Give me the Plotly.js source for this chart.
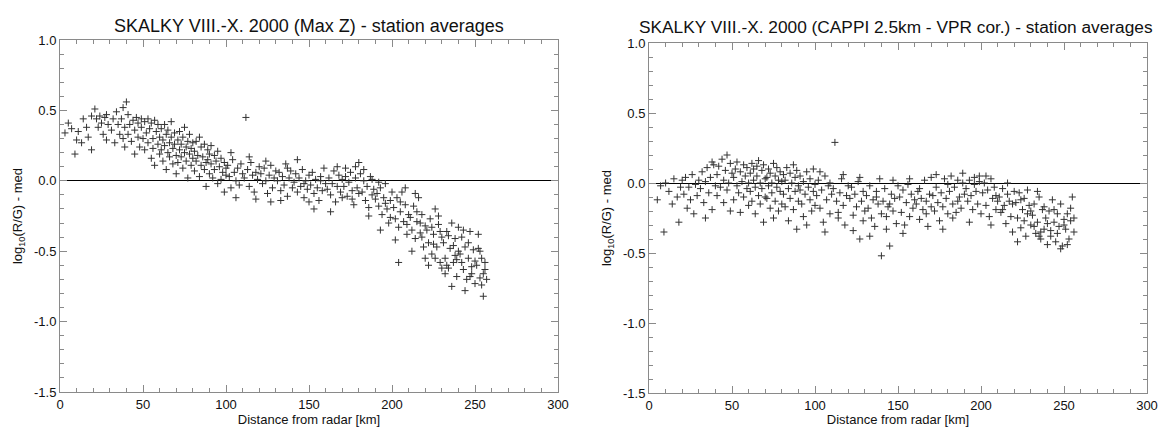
<!DOCTYPE html>
<html>
<head>
<meta charset="utf-8">
<script src="https://cdn.plot.ly/plotly-3.0.1.min.js"></script>
<style>html,body{margin:0;padding:0;background:#fff;}#chart{width:1160px;height:427px;}</style>
</head>
<body>
<div id="chart"></div>
<script>
// ---- Data ----
const titleLeft = "SKALKY VIII.-X. 2000 (Max Z) - station averages";
const titleRight = "SKALKY VIII.-X. 2000 (CAPPI 2.5km - VPR cor.) - station averages";
const xTitle = "Distance from radar [km]";
const yTitle = "log<sub>10</sub>(R/G) - med";
const yTickVals = [-1.5, -1.0, -0.5, 0.0, 0.5, 1.0];
const yTickText = ["-1.5", "-1.0", "-0.5", "0.0", "0.5", "1.0"];

// Left panel: Max Z
const distMaxZ = [
  3,5,7,9,10,
  11,13,14,16,17,19,19,
  21,22,23,24,25,26,27,28,28,29,
  31,32,33,34,35,36,37,38,38,39,39,40,
  41,41,42,43,44,45,45,46,47,47,48,49,49,50,
  51,51,52,53,53,54,55,55,56,56,57,57,58,59,59,60,60,
  61,61,62,62,63,63,64,64,65,65,66,66,67,67,68,68,69,69,70,70,
  71,71,72,72,73,73,74,74,75,75,76,76,77,77,78,78,79,79,80,80,
  81,81,82,82,83,84,84,85,85,86,87,87,88,88,89,89,90,90,
  91,91,92,93,93,94,95,95,96,97,97,98,99,99,100,100,
  101,102,103,104,105,106,107,108,109,110,103,106,
  111,112,113,114,115,116,117,118,119,120,114,118,
  121,122,123,124,125,126,127,128,129,130,124,127,
  131,132,133,134,135,136,137,138,139,140,133,137,
  141,142,143,144,145,146,147,148,149,150,143,147,150,
  151,152,153,154,155,156,157,158,159,160,153,157,
  161,162,163,164,165,166,167,168,169,170,163,167,170,
  171,172,173,174,175,176,177,178,179,180,172,176,180,178,
  181,182,183,184,185,186,187,188,189,190,183,186,188,
  191,192,193,194,195,196,197,198,199,200,193,196,199,192,
  201,202,203,204,205,206,207,208,209,210,202,205,208,204,209,
  211,212,213,214,215,216,217,218,219,220,212,215,218,214,217,220,
  221,222,223,224,225,226,227,228,229,230,222,224,226,228,230,225,229,
  231,232,233,234,235,236,237,238,239,240,232,234,236,238,240,233,237,239,
  241,242,243,244,245,246,247,248,249,250,242,244,246,248,250,243,247,
  251,252,253,254,255,256,257,252,254,256,253,255
];
const valMaxZ = [
  0.34,0.41,0.37,0.19,0.29,
  0.35,0.27,0.44,0.38,0.31,0.46,0.22,
  0.51,0.44,0.38,0.46,0.41,0.33,0.45,0.47,0.29,0.40,
  0.36,0.44,0.27,0.49,0.40,0.33,0.44,0.52,0.30,0.38,0.24,0.56,
  0.47,0.33,0.40,0.28,0.43,0.36,0.19,0.45,0.31,0.41,0.24,0.38,0.44,0.30,
  0.42,0.22,0.34,0.44,0.27,0.37,0.16,0.41,0.30,0.23,0.43,0.11,0.35,0.26,0.40,0.19,0.31,
  0.37,0.22,0.29,0.14,0.40,0.25,0.33,0.08,0.20,0.36,0.27,0.17,0.31,0.42,0.23,0.12,0.34,0.26,0.18,0.05,
  0.29,0.13,0.22,0.35,0.17,0.26,0.09,0.31,0.20,0.38,0.14,0.24,0.28,0.02,0.19,0.33,0.11,0.23,0.16,0.27,
  0.21,0.07,0.28,0.14,0.18,0.31,0.03,0.11,0.24,0.17,0.26,0.08,0.13,-0.04,0.22,0.15,0.05,0.19,
  0.12,0.25,0.02,0.18,0.08,0.14,-0.02,0.21,0.10,0.16,0.01,0.06,0.13,-0.08,0.09,0.04,
  0.11,0.03,-0.05,0.15,0.06,0.00,0.09,-0.03,0.12,0.05,0.20,-0.12,
  0.02,0.45,0.08,-0.04,0.13,0.04,-0.08,0.06,0.01,0.10,0.17,-0.13,
  0.05,-0.02,0.09,0.00,-0.09,0.04,0.11,-0.05,0.02,0.07,0.14,-0.15,
  0.00,0.06,-0.07,0.03,-0.03,0.12,-0.11,0.02,0.07,-0.05,-0.14,0.09,
  -0.01,0.05,-0.08,0.02,-0.04,0.08,-0.12,0.00,-0.06,0.04,0.15,-0.02,-0.15,
  -0.03,0.06,-0.09,0.01,-0.05,-0.14,0.03,-0.07,0.09,-0.02,-0.20,0.00,
  -0.06,0.02,-0.10,-0.02,0.07,-0.15,-0.04,0.04,-0.08,0.01,-0.22,0.10,-0.12,
  -0.04,0.03,-0.11,-0.01,0.06,-0.07,-0.17,0.02,-0.05,0.13,0.09,-0.13,-0.09,0.10,
  0.05,-0.08,0.00,-0.14,-0.04,-0.19,0.03,-0.10,-0.06,-0.13,0.08,-0.25,0.01,
  -0.09,-0.18,-0.05,-0.24,-0.12,-0.02,-0.20,-0.30,-0.14,-0.08,-0.35,-0.16,-0.26,-0.01,
  -0.19,-0.27,-0.12,-0.33,-0.22,-0.08,-0.29,-0.17,-0.38,-0.24,-0.42,-0.15,-0.05,-0.58,-0.31,
  -0.26,-0.35,-0.18,-0.41,-0.29,-0.12,-0.37,-0.24,-0.47,-0.32,-0.50,-0.22,-0.40,-0.09,-0.30,-0.55,
  -0.35,-0.44,-0.27,-0.52,-0.38,-0.20,-0.47,-0.31,-0.58,-0.40,-0.60,-0.33,-0.55,-0.25,-0.62,-0.45,-0.36,
  -0.44,-0.55,-0.36,-0.62,-0.48,-0.30,-0.58,-0.41,-0.68,-0.50,-0.66,-0.39,-0.75,-0.53,-0.33,-0.60,-0.46,-0.56,
  -0.52,-0.40,-0.63,-0.47,-0.70,-0.55,-0.36,-0.61,-0.49,-0.73,-0.58,-0.78,-0.44,-0.66,-0.57,-0.35,-0.68,
  -0.60,-0.48,-0.69,-0.55,-0.82,-0.63,-0.70,-0.38,-0.74,-0.58,-0.50,-0.66
];

// Right panel: CAPPI 2.5 km, VPR corrected
const distCappi = [
  5,7,9,10,
  12,14,15,17,18,19,20,
  21,22,23,24,25,26,27,28,29,30,
  31,32,33,34,35,36,37,38,39,40,34,38,
  41,41,42,43,44,45,45,46,47,47,48,49,49,50,
  51,51,52,53,53,54,55,55,56,57,57,58,59,59,60,60,
  61,61,62,62,63,63,64,64,65,65,66,66,67,67,68,68,69,69,70,70,
  71,71,72,72,73,73,74,74,75,75,76,76,77,77,78,78,79,79,80,80,
  81,81,82,82,83,84,84,85,85,86,87,87,88,88,89,89,90,90,
  91,91,92,93,93,94,95,95,96,97,97,98,99,99,100,100,
  101,102,103,104,105,106,107,108,109,110,103,106,109,
  111,112,113,114,115,116,117,118,119,120,114,117,
  121,122,123,124,125,126,127,128,129,130,123,127,129,
  131,132,133,134,135,136,137,138,139,140,133,137,140,
  141,142,143,144,145,146,147,148,149,150,143,147,145,
  151,152,153,154,155,156,157,158,159,160,153,157,
  161,162,163,164,165,166,167,168,169,170,163,167,170,
  171,172,173,174,175,176,177,178,179,180,173,177,180,
  181,182,183,184,185,186,187,188,189,190,183,186,189,
  191,192,193,194,195,196,197,198,199,200,193,196,199,
  201,202,203,204,205,206,207,208,209,210,203,206,209,
  211,212,213,214,215,216,217,218,219,220,213,216,219,
  221,222,223,224,225,226,227,228,229,230,222,224,226,228,230,
  231,232,233,234,235,236,237,238,239,240,232,234,236,238,240,235,
  241,242,243,244,245,246,247,248,249,250,242,244,246,248,250,
  251,252,253,254,255,256,252,254,256
];
const valCappi = [
  -0.12,-0.02,-0.35,0.00,
  -0.06,-0.15,0.03,-0.10,-0.28,-0.03,0.02,
  -0.08,0.04,-0.18,-0.03,-0.12,0.06,-0.22,-0.01,-0.09,0.02,
  -0.04,0.08,-0.14,0.01,0.11,-0.07,0.04,-0.19,0.13,-0.02,-0.25,0.15,
  0.06,-0.09,0.12,-0.03,0.17,0.02,-0.14,0.09,-0.05,0.20,0.00,0.14,-0.20,0.07,
  0.04,-0.12,0.10,-0.02,0.15,-0.07,0.08,-0.21,0.01,0.13,-0.10,0.05,-0.04,0.11,-0.16,0.00,
  0.07,-0.06,0.14,-0.13,0.02,0.10,-0.03,-0.22,0.12,0.05,-0.09,0.16,0.00,-0.15,0.09,-0.04,0.13,-0.28,0.03,-0.10,
  0.04,-0.11,0.10,-0.02,-0.18,0.07,0.00,-0.07,0.14,-0.25,0.05,-0.13,-0.03,0.11,0.02,-0.20,0.08,-0.06,-0.15,0.01,
  0.06,-0.08,0.02,-0.17,0.11,-0.04,-0.27,0.07,-0.11,0.00,0.13,-0.19,0.04,-0.06,-0.33,0.09,-0.02,-0.13,
  -0.05,0.05,-0.15,0.01,-0.24,-0.08,0.08,-0.30,-0.03,-0.12,0.03,-0.20,-0.06,0.10,-0.16,-0.01,
  -0.09,0.02,-0.18,-0.05,-0.28,0.05,-0.12,-0.02,-0.22,-0.08,0.08,-0.35,0.00,
  -0.04,0.29,-0.13,-0.21,-0.07,0.03,-0.16,-0.30,-0.09,-0.02,-0.25,0.06,
  -0.11,-0.03,-0.23,-0.08,-0.17,0.01,-0.40,-0.13,-0.06,-0.20,-0.34,0.04,-0.27,
  -0.09,-0.18,-0.02,-0.25,-0.12,-0.31,-0.06,-0.15,0.03,-0.22,-0.38,-0.10,-0.52,
  -0.13,-0.04,-0.24,-0.17,-0.45,-0.08,-0.20,-0.11,-0.29,-0.02,-0.33,0.02,-0.15,
  -0.10,-0.21,-0.05,-0.30,-0.14,-0.01,-0.24,-0.08,-0.18,-0.12,-0.36,0.03,
  -0.15,-0.06,-0.26,-0.11,-0.19,0.02,-0.13,-0.31,-0.08,-0.17,-0.04,-0.22,0.04,
  -0.09,-0.20,-0.03,-0.14,-0.27,-0.07,-0.17,0.03,-0.11,-0.22,0.06,-0.33,-0.01,
  -0.06,0.05,-0.15,-0.03,-0.21,0.02,-0.10,-0.18,0.00,-0.08,-0.25,-0.13,0.07,
  -0.04,-0.13,0.02,-0.09,-0.19,0.04,-0.06,-0.15,0.01,-0.22,-0.28,-0.01,0.05,
  -0.07,0.00,-0.16,-0.05,-0.24,0.03,-0.11,-0.03,-0.19,-0.13,0.05,-0.30,-0.09,
  -0.10,-0.21,-0.04,-0.16,-0.29,-0.08,-0.13,-0.24,-0.35,-0.06,-0.19,0.00,-0.15,
  -0.14,-0.25,-0.07,-0.32,-0.19,-0.11,-0.38,-0.22,-0.16,-0.30,-0.42,-0.12,-0.27,-0.05,-0.20,
  -0.23,-0.15,-0.36,-0.28,-0.10,-0.40,-0.19,-0.33,-0.25,-0.44,-0.31,-0.06,-0.35,-0.17,-0.29,-0.38,
  -0.20,-0.34,-0.12,-0.28,-0.42,-0.22,-0.31,-0.15,-0.45,-0.26,-0.38,-0.19,-0.36,-0.47,-0.30,
  -0.33,-0.22,-0.40,-0.27,-0.10,-0.35,-0.44,-0.18,-0.25
];

// ---- Chart ----
const FONT = "Liberation Sans, Arial, Helvetica, sans-serif";
const W = 1160, H = 427;
const markerStyle = {symbol: "cross-thin", size: 5, color: "#333", line: {width: 1, color: "#333"}};

function xAxis(left, right) {
  return {
    domain: [left / W, right / W], range: [0, 300], autorange: false,
    tickmode: "linear", tick0: 0, dtick: 50,
    ticks: "inside", ticklen: 7, tickcolor: "#8a8a8a", tickwidth: 1,
    minor: {tickmode: "linear", tick0: 0, dtick: 10, ticks: "inside", ticklen: 4, tickcolor: "#8a8a8a", tickwidth: 1},
    showline: true, linecolor: "#8a8a8a", linewidth: 1, mirror: "allticks",
    showgrid: false, zeroline: false,
    tickfont: {family: FONT, size: 13, color: "#111"},
    title: {text: xTitle, font: {family: FONT, size: 13, color: "#111"}, standoff: 2},
    fixedrange: true
  };
}
function yAxis(bottom, top) {
  return {
    domain: [(H - bottom) / H, (H - top) / H], range: [-1.5, 1.0], autorange: false,
    tickmode: "array", tickvals: yTickVals, ticktext: yTickText,
    ticks: "inside", ticklen: 7, tickcolor: "#8a8a8a", tickwidth: 1,
    minor: {tickmode: "linear", tick0: 0, dtick: 0.1, ticks: "inside", ticklen: 4, tickcolor: "#8a8a8a", tickwidth: 1},
    showline: true, linecolor: "#8a8a8a", linewidth: 1, mirror: "allticks",
    showgrid: false, zeroline: true, zerolinecolor: "#000", zerolinewidth: 1,
    tickfont: {family: FONT, size: 13, color: "#111"},
    title: {text: yTitle, font: {family: FONT, size: 13, color: "#111"}, standoff: 8},
    fixedrange: true
  };
}

const data = [
  {type: "scatter", mode: "markers", x: distMaxZ, y: valMaxZ, xaxis: "x", yaxis: "y", marker: markerStyle, hoverinfo: "x+y", showlegend: false},
  {type: "scatter", mode: "markers", x: distCappi, y: valCappi, xaxis: "x2", yaxis: "y2", marker: markerStyle, hoverinfo: "x+y", showlegend: false}
];

const layout = {
  width: W, height: H,
  margin: {l: 0, r: 0, t: 0, b: 0, pad: 0},
  paper_bgcolor: "#fff", plot_bgcolor: "#fff",
  font: {family: FONT, size: 13, color: "#111"},
  showlegend: false,
  xaxis: xAxis(60, 558),
  yaxis: yAxis(392, 40),
  xaxis2: Object.assign(xAxis(649, 1147), {anchor: "y2"}),
  yaxis2: Object.assign(yAxis(393, 43), {anchor: "x2"}),
  annotations: [
    {text: titleLeft, xref: "paper", yref: "paper", x: 309 / W, y: (H - 26) / H, xanchor: "center", yanchor: "middle", showarrow: false, font: {family: FONT, size: 18, color: "#111"}},
    {text: titleRight, xref: "paper", yref: "paper", x: 896 / W, y: (H - 27) / H, xanchor: "center", yanchor: "middle", showarrow: false, font: {family: FONT, size: 17.3, color: "#111"}}
  ]
};
layout.xaxis.anchor = "y";
layout.yaxis.anchor = "x";

Plotly.newPlot("chart", data, layout, {displayModeBar: false, staticPlot: true});
</script>
</body>
</html>
